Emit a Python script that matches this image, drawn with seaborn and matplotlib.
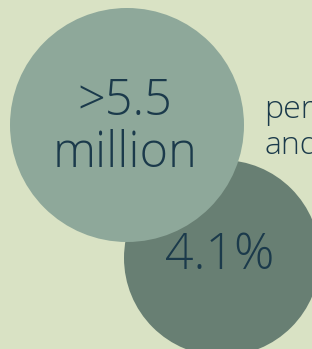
import seaborn as sns
import matplotlib.pyplot as plt
from matplotlib.patches import Circle

# bubbles (pixel coordinates of the infographic)
labels = ['>5.5\nmillion', '4.1%']
centers_x = [127, 222]
centers_y = [125, 258]
radii = [117, 98]
colors = ['#8ea89a', '#687f73']
layers = [3, 2]  # light bubble sits on top of the dark one
side_text = 'per\nand'

bg = '#d9e2c4'
ink = '#1b3a4b'

sns.set_theme(style='white')
plt.rcParams['font.family'] = ['Open Sans', 'DejaVu Sans']

fig = plt.figure(figsize=(3.12, 3.49), dpi=100, facecolor=bg)
ax = fig.add_axes([0, 0, 1, 1])
ax.set_facecolor(bg)
ax.set_xlim(0, 312)
ax.set_ylim(349, 0)
ax.axis('off')

for cx, cy, r, c, z in zip(centers_x, centers_y, radii, colors, layers):
    ax.add_patch(Circle((cx, cy), r, color=c, lw=0, zorder=z))

ax.text(125, 128, labels[0], ha='center', va='center', color=ink,
        fontsize=35, linespacing=1.05, fontweight='light', zorder=5)
ax.text(220, 256, labels[1], ha='center', va='center', color=ink,
        fontsize=36, fontweight='light', zorder=5)
ax.text(264, 128, side_text, ha='left', va='center', color=ink,
        fontsize=23, linespacing=1.15, fontweight='light', zorder=5)

fig.savefig('out.png', dpi=100, facecolor=bg)
